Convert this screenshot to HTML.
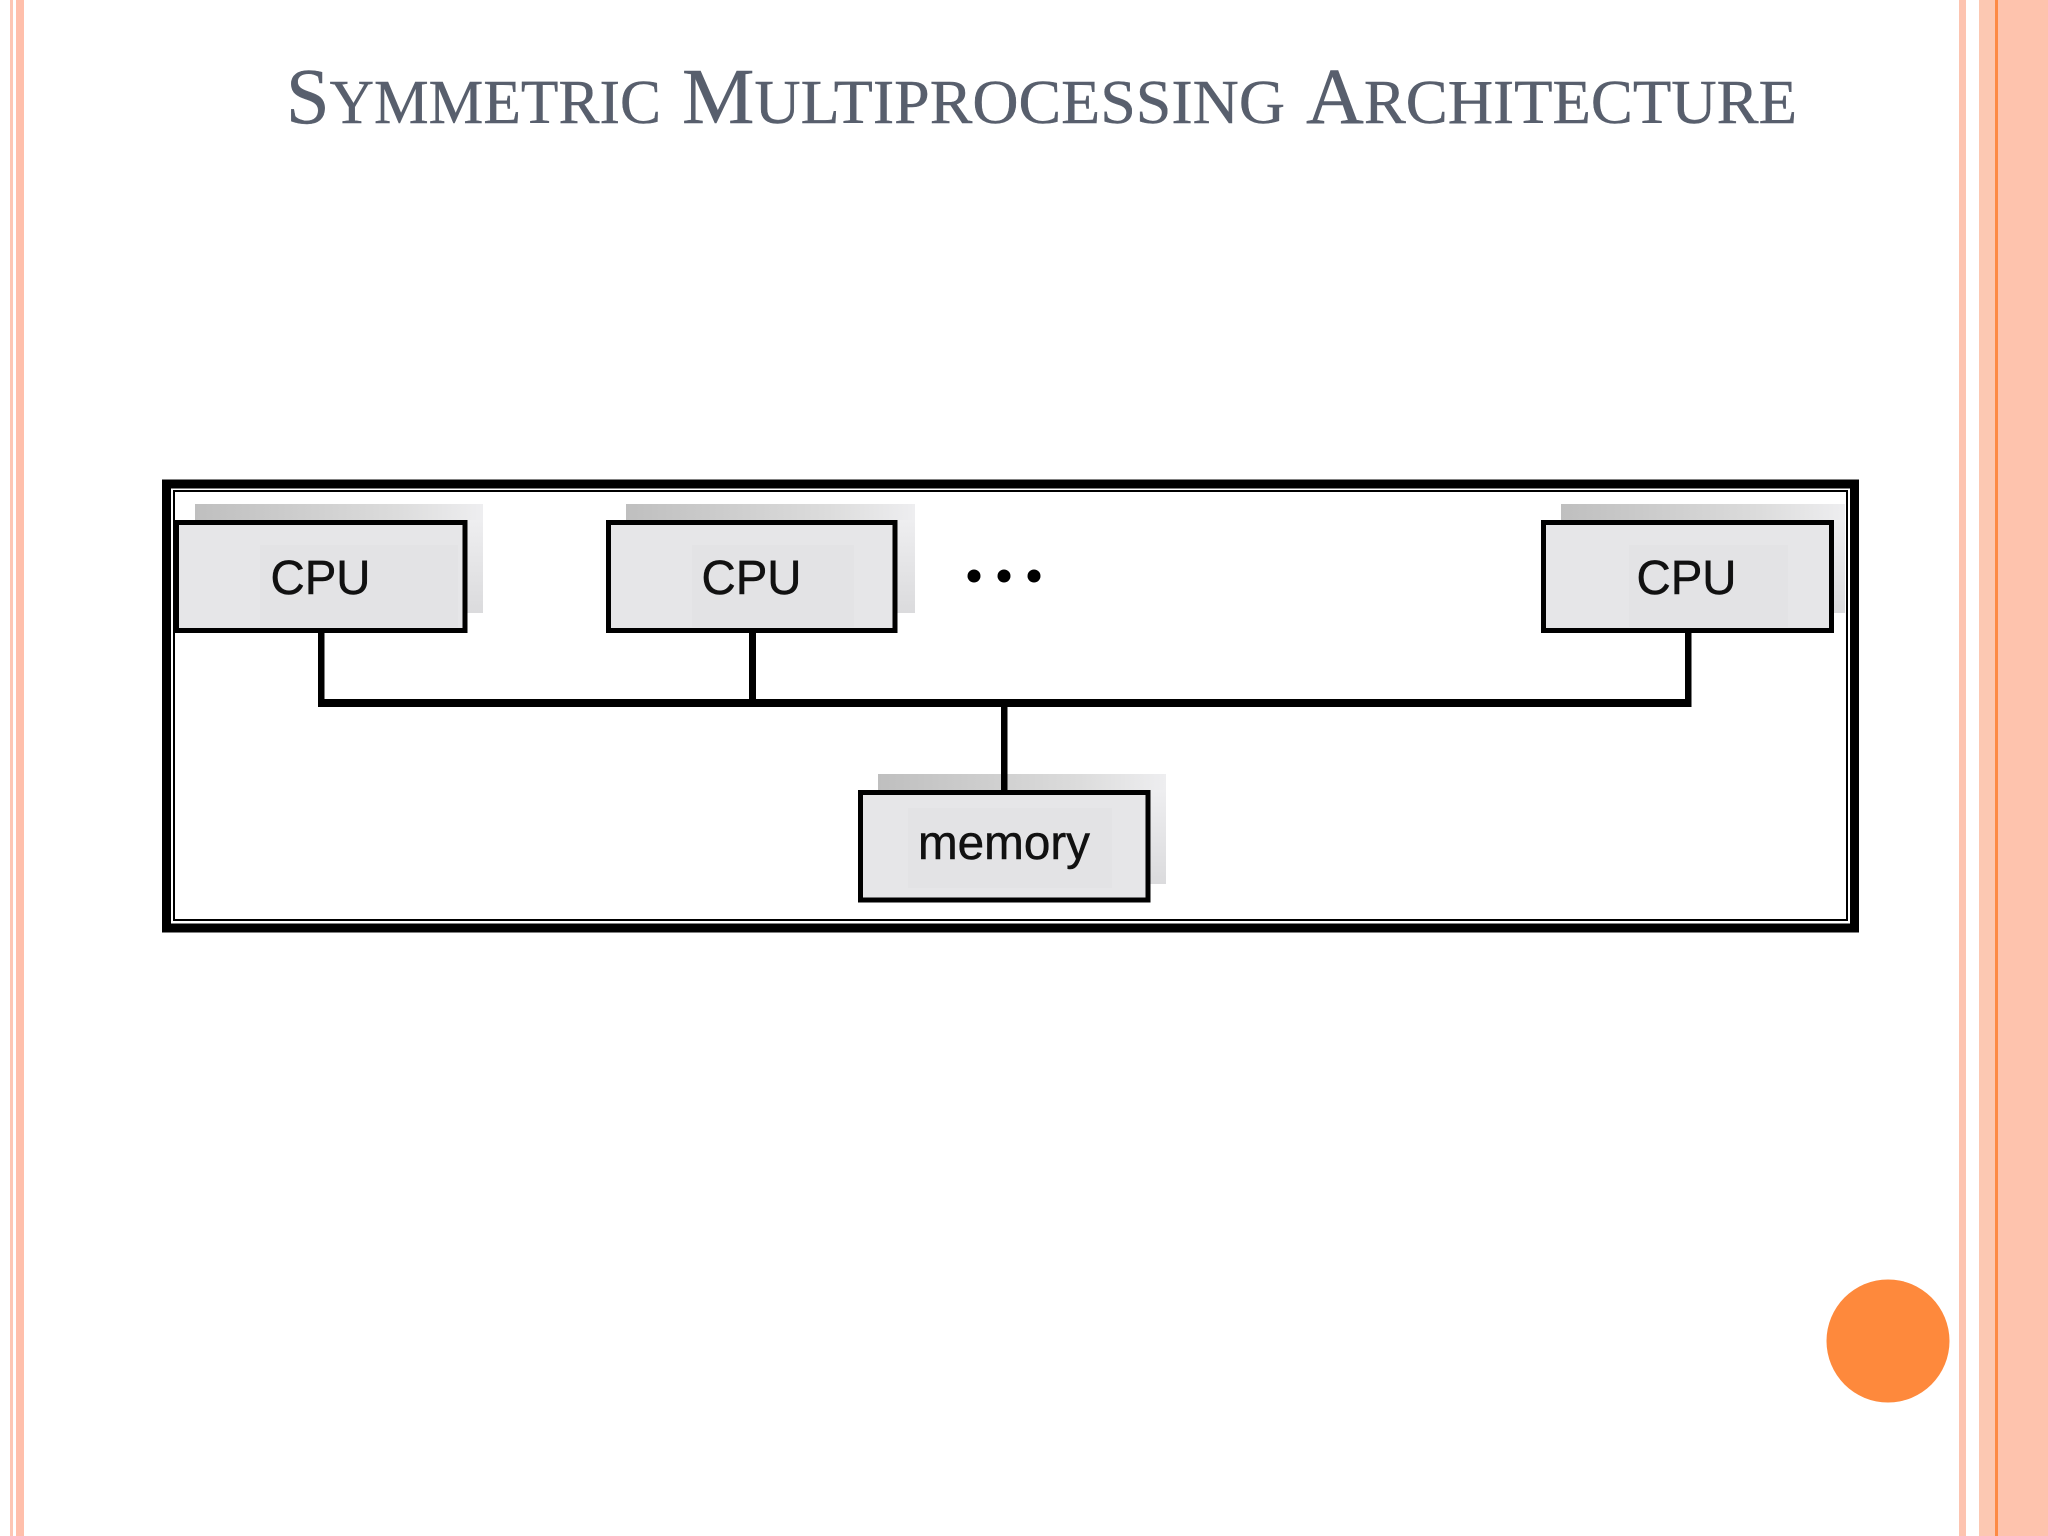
<!DOCTYPE html>
<html>
<head>
<meta charset="utf-8">
<style>
html,body{margin:0;padding:0;background:#fff;width:2048px;height:1536px;overflow:hidden}
svg{display:block}
</style>
</head>
<body>
<svg xmlns="http://www.w3.org/2000/svg" width="2048" height="1536" viewBox="0 0 2048 1536">
<defs>
<linearGradient id="sh" x1="0" y1="0" x2="1" y2="0">
<stop offset="0" stop-color="#bfbfbf"/>
<stop offset="0.3" stop-color="#cbcbcb"/>
<stop offset="0.7" stop-color="#dcdcdc"/>
<stop offset="1" stop-color="#eeeef0"/>
</linearGradient>
<linearGradient id="sh2" x1="0" y1="0" x2="0" y2="1">
<stop offset="0" stop-color="#eeeef0"/>
<stop offset="1" stop-color="#dbdbdd"/>
</linearGradient>
</defs>
<rect width="2048" height="1536" fill="#fff"/>
<!-- left stripes -->
<rect x="10" y="0" width="3" height="1536" fill="#fdc6b4"/>
<rect x="16" y="0" width="8" height="1536" fill="#ffbfab"/>
<!-- right stripes -->
<rect x="1959" y="0" width="7" height="1536" fill="#fdc4b0"/>
<rect x="1979" y="0" width="16" height="1536" fill="#fcc8b2"/>
<rect x="1995" y="0" width="3" height="1536" fill="#fd8a45"/>
<rect x="1998" y="0" width="50" height="1536" fill="#fec3ad"/>
<!-- title -->
<g fill="#585f6d" stroke="#585f6d" stroke-width="0.4" font-family="'Liberation Serif',serif" font-size="62">
<text x="286" y="123" textLength="375" lengthAdjust="spacingAndGlyphs"><tspan font-size="79">S</tspan>YMMETRIC</text>
<text x="682" y="123" textLength="603" lengthAdjust="spacingAndGlyphs"><tspan font-size="79">M</tspan>ULTIPROCESSING</text>
<text x="1306" y="123" textLength="491" lengthAdjust="spacingAndGlyphs"><tspan font-size="79">A</tspan>RCHITECTURE</text>
</g>
<!-- outer frame -->
<rect x="166.500" y="484" width="1688" height="444" fill="#fff" stroke="#000" stroke-width="9"/>
<rect x="174" y="491" width="1673" height="429" fill="none" stroke="#000" stroke-width="2"/>
<!-- shadows -->
<g>
<rect x="195" y="504" width="288" height="30" fill="url(#sh)"/>
<rect x="460" y="520" width="23" height="93" fill="url(#sh2)"/>
<rect x="626" y="504" width="289" height="30" fill="url(#sh)"/>
<rect x="890" y="520" width="25" height="93" fill="url(#sh2)"/>
<rect x="1561" y="504" width="284" height="30" fill="url(#sh)"/>
<rect x="1828" y="520" width="17" height="93" fill="url(#sh2)"/>
<rect x="878" y="774" width="288" height="30" fill="url(#sh)"/>
<rect x="1145" y="790" width="21" height="94" fill="url(#sh2)"/>
</g>
<!-- connectors -->
<g fill="#000">
<rect x="318" y="630" width="6.500" height="75"/>
<rect x="749" y="630" width="7" height="75"/>
<rect x="1685" y="630" width="6.500" height="75"/>
<rect x="318" y="699" width="1373.500" height="8"/>
<rect x="1001" y="705" width="6.500" height="87"/>
</g>
<!-- boxes -->
<g fill="#e6e6e8" stroke="#000" stroke-width="5">
<rect x="176.500" y="522.500" width="288.500" height="108"/>
<rect x="608.500" y="522.500" width="286.500" height="108"/>
<rect x="1543.500" y="522.500" width="288" height="108"/>
<rect x="860.500" y="792.500" width="287.500" height="107.500"/>
</g>
<g fill="#e3e3e5">
<rect x="260" y="545" width="198" height="82"/>
<rect x="692" y="545" width="162" height="82"/>
<rect x="1629" y="545" width="159" height="82"/>
<rect x="908" y="808" width="204" height="80"/>
</g>
<!-- labels -->
<g fill="#111" stroke="#111" stroke-width="0.5" font-family="'Liberation Sans',sans-serif" font-size="48">
<text x="270.500" y="594" textLength="100" lengthAdjust="spacingAndGlyphs">CPU</text>
<text x="701.500" y="594" textLength="100" lengthAdjust="spacingAndGlyphs">CPU</text>
<text x="1636.500" y="594" textLength="100" lengthAdjust="spacingAndGlyphs">CPU</text>
<text x="918" y="859" textLength="172" lengthAdjust="spacingAndGlyphs">memory</text>
</g>
<!-- ellipsis dots -->
<g fill="#000">
<circle cx="974" cy="576" r="6.500"/>
<circle cx="1004" cy="576" r="6.500"/>
<circle cx="1034" cy="576" r="6.500"/>
</g>
<!-- orange circle -->
<circle cx="1888" cy="1341" r="61.500" fill="#fe893c"/>
</svg>
</body>
</html>
